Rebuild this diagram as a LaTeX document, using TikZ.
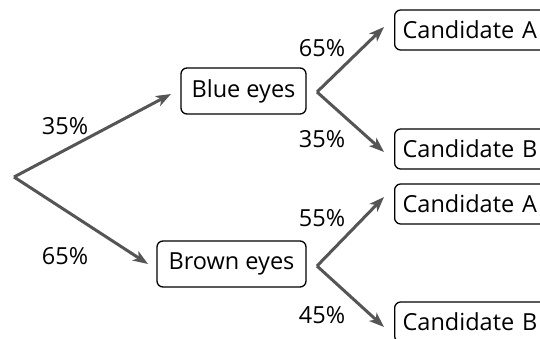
\documentclass[tikz,border=0pt]{standalone}
\usepackage{fontspec}
\setmainfont{Open Sans}
\usetikzlibrary{arrows.meta}
\definecolor{arr}{HTML}{555555}
\begin{document}
\begin{tikzpicture}[x=1pt,y=-1pt,
  box/.style={draw=black, line width=1.3pt, rounded corners=6pt, inner sep=0pt, font=\fontsize{23.5}{26}\selectfont},
  cand/.style={box, anchor=west, minimum height=40pt, text width=150pt, align=left, inner xsep=8pt},
  pct/.style={font=\fontsize{23.5}{26}\selectfont, inner sep=0pt},
  arrowline/.style={draw=arr, line width=3pt, -{Stealth[length=15pt,width=11pt,inset=4pt]}}]
\useasboundingbox (0,0) rectangle (540,339);
\clip (0,0) rectangle (540,339);
\coordinate (root) at (14,177);
\coordinate (tblue) at (171,94);
\coordinate (tbrown) at (148,264);
\coordinate (b1) at (317,92);
\coordinate (b2) at (317,266);
\coordinate (ta1) at (384,27);
\coordinate (tb1) at (384,152);
\coordinate (ta2) at (384,197);
\coordinate (tb2) at (384,327);
\node[box, minimum width=125pt, minimum height=46pt] (blue) at (243.5,91) {Blue eyes};
\node[box, minimum width=149pt, minimum height=46pt] (brown) at (231.5,264) {Brown eyes};
\node[cand] (ca1) at (394,30) {Candidate A};
\node[cand] (cb1) at (394,149) {Candidate B};
\node[cand] (ca2) at (394,204) {Candidate A};
\node[cand] (cb2) at (394,322) {Candidate B};
\draw[arrowline] (root) -- (tblue);
\draw[arrowline] (root) -- (tbrown);
\draw[arrowline] (b1) -- (ta1);
\draw[arrowline] (b1) -- (tb1);
\draw[arrowline] (b2) -- (ta2);
\draw[arrowline] (b2) -- (tb2);
\node[pct] (l1) at (65,126) {35\%};
\node[pct] (l2) at (65,256) {65\%};
\node[pct] (l3) at (322,48) {65\%};
\node[pct] (l4) at (322,139) {35\%};
\node[pct] (l5) at (322,218) {55\%};
\node[pct] (l6) at (322,315) {45\%};
\end{tikzpicture}
\end{document}
